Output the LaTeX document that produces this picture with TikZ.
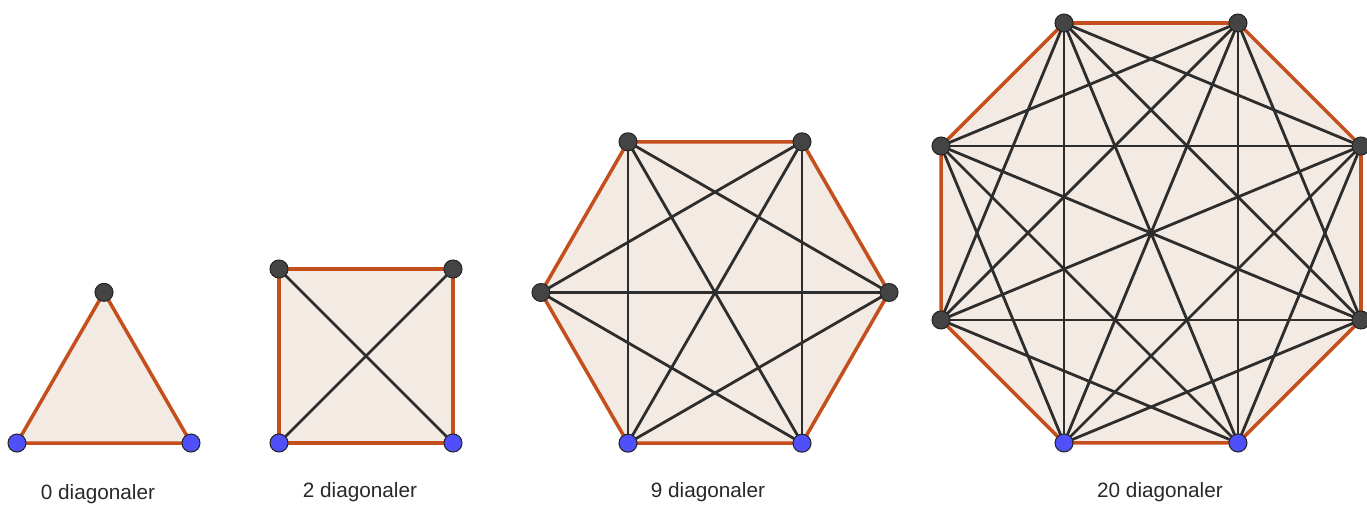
\documentclass[tikz,border=0pt]{standalone}
\usepackage{fontspec}
\setsansfont{Liberation Sans}
\usetikzlibrary{calc, backgrounds}
\definecolor{edgecol}{RGB}{196, 78, 28}
\definecolor{facecol}{RGB}{243, 234, 228}
\definecolor{diagcol}{RGB}{45, 45, 45}
\definecolor{dotdark}{RGB}{68, 68, 68}
\definecolor{dotblue}{RGB}{80, 80, 250}
\definecolor{textcol}{RGB}{40, 40, 40}

\begin{document}
\begin{tikzpicture}[x=0.02cm, y=0.02cm,
    vdot/.style={circle, draw=black!85, fill=#1, line width=0.6pt,
                 inner sep=0pt, minimum size=0.36cm},
    side/.style={draw=edgecol, line width=2pt, line join=round},
    diag/.style={draw=diagcol, line width=1.6pt},
    face/.style={fill=facecol},
    caption/.style={font=\sffamily\fontsize{11.8}{14}\selectfont, text=textcol, anchor=base}
]
    \useasboundingbox (0,0) rectangle (1367,506);

    % triangle
    \foreach \i/\a/\c in {1/210/dotblue, 2/330/dotblue, 3/90/dotdark}
        \node[vdot=\c] (t\i) at ($(104,113.2)+(\a:100.46)$) {};

    % square
    \foreach \i/\a/\c in {1/225/dotblue, 2/315/dotblue, 3/45/dotdark, 4/135/dotdark}
        \node[vdot=\c] (s\i) at ($(366,150)+(\a:123.04)$) {};

    % hexagon
    \foreach \i/\a/\c in {1/240/dotblue, 2/300/dotblue, 3/0/dotdark,
                          4/60/dotdark, 5/120/dotdark, 6/180/dotdark}
        \node[vdot=\c] (h\i) at ($(715,213.5)+(\a:174)$) {};

    % octagon
    \foreach \i/\a/\c in {1/247.5/dotblue, 2/292.5/dotblue, 3/337.5/dotdark, 4/22.5/dotdark,
                          5/67.5/dotdark, 6/112.5/dotdark, 7/157.5/dotdark, 8/202.5/dotdark}
        \node[vdot=\c] (o\i) at ($(1151,273)+(\a:227.3)$) {};

    \begin{scope}[on background layer]
        \fill[face] (t1.center) -- (t2.center) -- (t3.center) -- cycle;
        \fill[face] (s1.center) -- (s2.center) -- (s3.center) -- (s4.center) -- cycle;
        \fill[face] (h1.center) \foreach \i in {2,...,6} { -- (h\i.center) } -- cycle;
        \fill[face] (o1.center) \foreach \i in {2,...,8} { -- (o\i.center) } -- cycle;

        % diagonals
        \draw[diag] (s1.center) -- (s3.center);
        \draw[diag] (s2.center) -- (s4.center);
        \foreach \i in {1,...,4} {
            \pgfmathtruncatemacro\first{\i+2}
            \pgfmathtruncatemacro\last{\i==1 ? 5 : 6}
            \foreach \j in {\first,...,\last}
                \draw[diag] (h\i.center) -- (h\j.center);
        }
        \foreach \i in {1,...,6} {
            \pgfmathtruncatemacro\first{\i+2}
            \pgfmathtruncatemacro\last{\i==1 ? 7 : 8}
            \foreach \j in {\first,...,\last}
                \draw[diag] (o\i.center) -- (o\j.center);
        }

        % sides
        \draw[side] (t1.center) -- (t2.center) -- (t3.center) -- cycle;
        \draw[side] (s1.center) -- (s2.center) -- (s3.center) -- (s4.center) -- cycle;
        \draw[side] (h1.center) \foreach \i in {2,...,6} { -- (h\i.center) } -- cycle;
        \draw[side] (o1.center) \foreach \i in {2,...,8} { -- (o\i.center) } -- cycle;
    \end{scope}

    \node[caption] (cap3) at (98,6) {0 diagonaler};
    \node[caption] (cap4) at (360,8) {2 diagonaler};
    \node[caption] (cap6) at (708,8) {9 diagonaler};
    \node[caption] (cap8) at (1160,8) {20 diagonaler};
\end{tikzpicture}
\end{document}
